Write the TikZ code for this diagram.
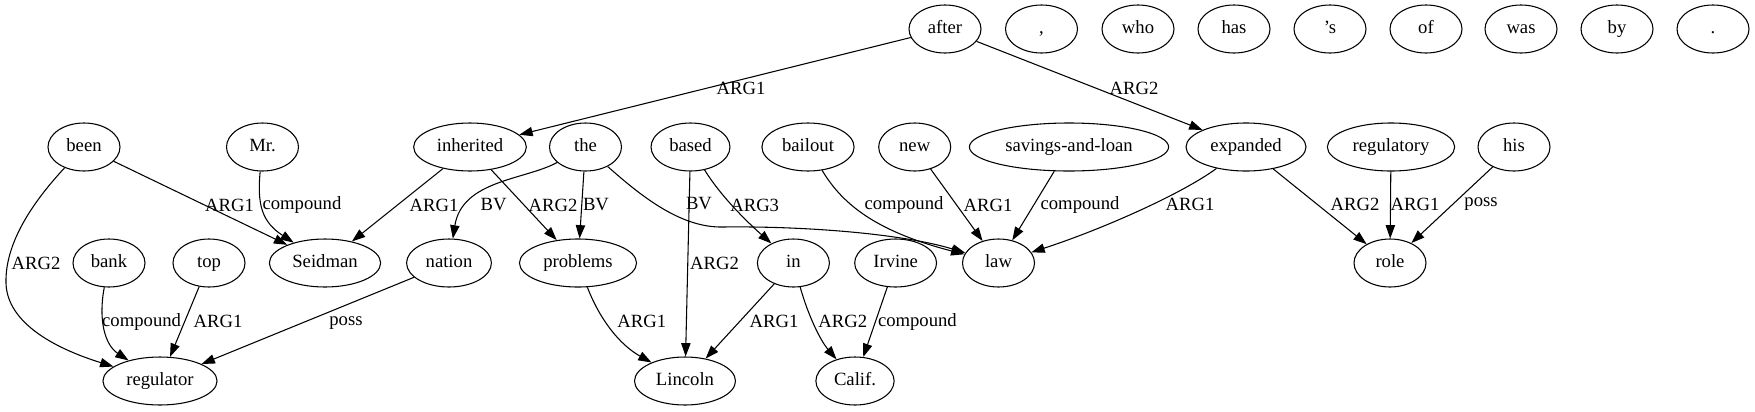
\documentclass[tikz,border=0pt]{standalone}
\usepackage{fontspec}
\setmainfont{Liberation Serif}
\usetikzlibrary{shapes.geometric,arrows.meta}
\begin{document}
\begin{tikzpicture}[x=0.75pt,y=-0.75pt,
  tok/.style={ellipse,draw,line width=0.8pt,inner xsep=5pt,inner ysep=2pt,minimum width=54pt,minimum height=36pt,text height=9.5pt,text depth=3pt,font=\fontsize{14}{16}\selectfont},
  lab/.style={inner sep=0pt,font=\fontsize{14}{16}\selectfont},
  edge/.style={draw,line width=0.8pt,-{Triangle[length=10pt,width=7pt]}}]
\fill[white] (0,0) rectangle (1755,411);
\useasboundingbox (0,0) rectangle (1755,411);
% row 0
\node[tok] (after) at (945,29) {after};
\node[tok] (comma) at (1041.5,29) {,};
\node[tok] (who) at (1138,29) {who};
\node[tok] (has) at (1234,29) {has};
\node[tok] (aps) at (1330,29) {’s};
\node[tok] (of) at (1426,29) {of};
\node[tok] (was) at (1521,29) {was};
\node[tok] (by) at (1617,29) {by};
\node[tok] (dot) at (1713,29) {.};
% row 1
\node[tok] (been) at (84,147) {been};
\node[tok] (mr) at (262.5,147) {Mr.};
\node[tok] (inherited) at (470,147) {inherited};
\node[tok] (the) at (585.5,147) {the};
\node[tok] (based) at (690.5,147) {based};
\node[tok] (bailout) at (808,147) {bailout};
\node[tok] (new) at (914.7,147) {new};
\node[tok] (sal) at (1069,147) {savings-and-loan};
\node[tok] (expanded) at (1246,147) {expanded};
\node[tok] (regulatory) at (1391,147) {regulatory};
\node[tok] (his) at (1514,147) {his};
% row 2
\node[tok] (bank) at (109,263) {bank};
\node[tok] (top) at (209,263) {top};
\node[tok] (seidman) at (325,263) {Seidman};
\node[tok] (nation) at (449,263) {nation};
\node[tok] (problems) at (578,263) {problems};
\node[tok] (in) at (793.4,263) {in};
\node[tok] (irvine) at (895.6,263) {Irvine};
\node[tok] (law) at (998.5,263) {law};
\node[tok] (role) at (1390,263) {role};
% row 3
\node[tok] (regulator) at (160,381) {regulator};
\node[tok] (lincoln) at (685,381) {Lincoln};
\node[tok] (calif) at (855,381) {Calif.};
% edges
\path[edge] (after) -- (inherited);
\node[lab] at (741,88) {ARG1};
\path[edge] (after) -- (expanded);
\node[lab] at (1134,88) {ARG2};
\path[edge] (been) -- (seidman);
\node[lab] at (229.6,205) {ARG1};
\path[edge] (been) .. controls (30,205) and (5,245) .. (6,283) .. controls (7,325) and (60,350) .. (regulator);
\node[lab] at (36,263) {ARG2};
\path[edge] (mr) .. controls (257,205) and (262,222) .. (seidman);
\node[lab] at (302,205) {compound};
\path[edge] (inherited) -- (seidman);
\node[lab] at (434,205) {ARG1};
\path[edge] (inherited) -- (problems);
\node[lab] at (553,205) {ARG2};
\path[edge] (the) .. controls (525,180) and (462,180) .. (nation);
\node[lab] at (493.7,205) {BV};
\path[edge] (the) -- (problems);
\node[lab] at (596,205) {BV};
\path[edge] (the) .. controls (640,195) and (680,228) .. (723,227) .. controls (800,226) and (900,233) .. (law);
\node[lab] at (699,204) {BV};
\path[edge] (based) -- (lincoln);
\node[lab] at (714.6,263) {ARG2};
\path[edge] (based) .. controls (720,195) and (745,220) .. (in);
\node[lab] at (754.7,205) {ARG3};
\path[edge] (bailout) .. controls (840,200) and (870,230) .. (law);
\node[lab] at (904,205) {compound};
\path[edge] (new) -- (law);
\node[lab] at (988,205) {ARG1};
\path[edge] (sal) -- (law);
\node[lab] at (1080,205) {compound};
\path[edge] (expanded) .. controls (1180,195) and (1100,230) .. (law);
\node[lab] at (1190,204) {ARG1};
\path[edge] (expanded) -- (role);
\node[lab] at (1355,204) {ARG2};
\path[edge] (regulatory) -- (role);
\node[lab] at (1415,204) {ARG1};
\path[edge] (his) -- (role);
\node[lab] at (1481,204) {poss};
\path[edge] (bank) .. controls (98,320) and (105,345) .. (regulator);
\node[lab] at (141.6,321.7) {compound};
\path[edge] (top) -- (regulator);
\node[lab] at (218,321.7) {ARG1};
\path[edge] (nation) -- (regulator);
\node[lab] at (346,323) {poss};
\path[edge] (problems) .. controls (600,320) and (620,345) .. (lincoln);
\node[lab] at (641.8,321.7) {ARG1};
\path[edge] (in) -- (lincoln);
\node[lab] at (774,321.7) {ARG1};
\path[edge] (in) .. controls (808,315) and (820,340) .. (calif);
\node[lab] at (842.8,321.7) {ARG2};
\path[edge] (irvine) -- (calif);
\node[lab] at (917.4,321.7) {compound};
\end{tikzpicture}
\end{document}
